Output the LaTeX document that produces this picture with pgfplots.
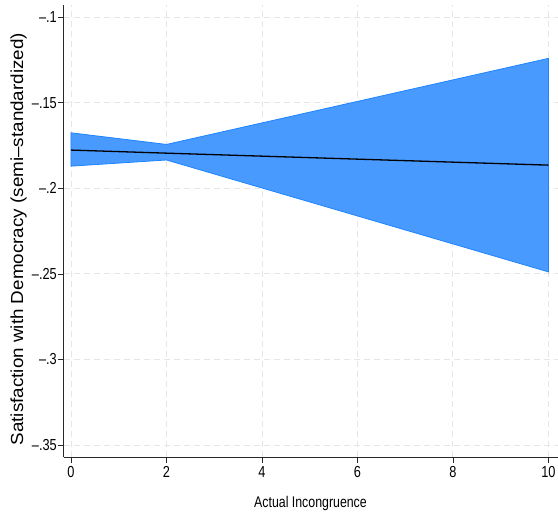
\documentclass[border=0pt]{standalone}
\usepackage{fontspec}
\setmainfont{Liberation Sans}[FakeStretch=0.8]
\newfontfamily\ylabfont{Liberation Sans}[FakeStretch=1.08]
\usepackage{pgfplots}
\pgfplotsset{compat=1.18}
\definecolor{cifill}{RGB}{72,154,255}
\definecolor{ciedge}{RGB}{30,132,255}
\definecolor{gridc}{RGB}{230,230,230}
\definecolor{axc}{RGB}{40,40,40}
\begin{document}
\begin{tikzpicture}
\begin{axis}[
  scale only axis,
  width=494bp, height=452bp,
  xmin=-0.157, xmax=10.19,
  ymin=-0.357, ymax=-0.0928,
  axis x line*=bottom, axis y line*=left,
  axis line style={axc, line width=0.9bp},
  xtick={0,2,4,6,8,10},
  xticklabels={0,2,4,6,8,10},
  ytick={-0.35,-0.3,-0.25,-0.2,-0.15,-0.1},
  yticklabels={–.35,–.3,–.25,–.2,–.15,–.1},
  tick align=outside,
  major tick length=5.5bp,
  tick style={axc, line width=0.8bp},
  xmajorgrids, ymajorgrids,
  major grid style={gridc, line width=0.9bp, dash pattern=on 6bp off 4bp},
  tick label style={font=\fontsize{16}{19}\selectfont},
  x tick label style={inner sep=0pt, yshift=-4bp},
  y tick label style={inner sep=0pt, xshift=-1bp},
  xlabel={Actual Incongruence},
  xlabel style={font=\fontsize{15.5}{18}\selectfont, at={(axis description cs:0.5,-0.1128)}, anchor=base, inner sep=0pt},
  ylabel={Satisfaction with Democracy (semi–standardized)},
  ylabel style={font=\ylabfont\fontsize{17.5}{20}\selectfont, at={(axis description cs:-0.0911,0.482)}, anchor=center, inner sep=0pt},
]
\addplot[fill=cifill, draw=ciedge, line width=0.8bp] coordinates {
  (0,-0.1675) (2,-0.1743) (10,-0.1240)
  (10,-0.2488) (2,-0.1834) (0,-0.1870)
} -- cycle;
\addplot[black, line width=1.3bp] coordinates {
  (0,-0.1776) (2,-0.1794) (10,-0.1864)
};
\end{axis}
\path (-63.5bp,-60bp) rectangle (494.5bp,457bp);
\end{tikzpicture}
\end{document}
